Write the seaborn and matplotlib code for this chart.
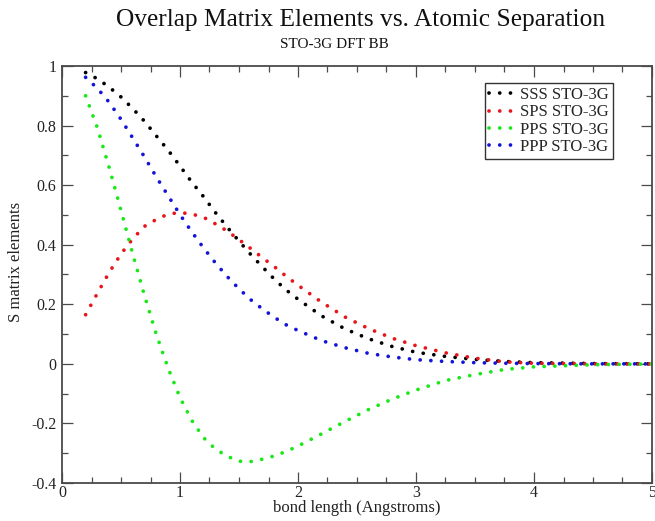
import numpy as np
import pandas as pd
import matplotlib
matplotlib.use("Agg")
import matplotlib.pyplot as plt
from matplotlib.ticker import MultipleLocator, FuncFormatter
import seaborn as sns

# ---------------- data ----------------
bond_length = [0.2, 0.3, 0.4, 0.5, 0.6, 0.7, 0.8, 0.9, 1.0, 1.1, 1.2, 1.3, 1.4,
               1.5, 1.6, 1.7, 1.8, 1.9, 2.0, 2.2, 2.4, 2.6, 2.8, 3.0, 3.25,
               3.5, 3.75, 4.0, 4.5, 5.0]

sss = [0.978, 0.957, 0.929, 0.896, 0.857, 0.814, 0.765, 0.717, 0.664, 0.610,
       0.561, 0.508, 0.459, 0.412, 0.367, 0.325, 0.284, 0.248, 0.217, 0.161,
       0.117, 0.084, 0.058, 0.039, 0.025, 0.015, 0.008, 0.004, 0.001, 0.0]

sps = [0.165, 0.237, 0.307, 0.369, 0.420, 0.462, 0.485, 0.503, 0.508, 0.503,
       0.492, 0.470, 0.446, 0.417, 0.387, 0.356, 0.326, 0.294, 0.264, 0.207,
       0.157, 0.118, 0.086, 0.061, 0.037, 0.019, 0.007, 0.002, 0.0, 0.0]

pps = [0.900, 0.792, 0.659, 0.515, 0.368, 0.228, 0.098, -0.015, -0.113, -0.190,
       -0.248, -0.286, -0.310, -0.327, -0.328, -0.320, -0.309, -0.294, -0.276,
       -0.235, -0.193, -0.153, -0.118, -0.088, -0.056, -0.036, -0.019, -0.010,
       -0.003, 0.0]

ppp = [0.962, 0.925, 0.878, 0.821, 0.758, 0.694, 0.627, 0.564, 0.501, 0.443,
       0.389, 0.339, 0.293, 0.252, 0.215, 0.184, 0.156, 0.131, 0.112, 0.078,
       0.054, 0.035, 0.023, 0.014, 0.008, 0.004, 0.002, 0.001, 0.0, 0.0]

series_names = ["SSS STO-3G", "SPS STO-3G", "PPS STO-3G", "PPP STO-3G"]
series_values = [sss, sps, pps, ppp]
series_colors = ["#000000", "#e8161a", "#18e818", "#1414d8"]

x_ticks = [0, 1, 2, 3, 4, 5]
y_ticks = [-0.4, -0.2, 0, 0.2, 0.4, 0.6, 0.8, 1]

title = "Overlap Matrix Elements vs. Atomic Separation"
subtitle = "STO-3G DFT BB"
x_label = "bond length (Angstroms)"
y_label = "S matrix elements"

# ---------------- build long-form table ----------------
frames = []
for name, vals in zip(series_names, series_values):
    frames.append(pd.DataFrame({"x": bond_length, "S": vals, "series": name}))
df = pd.concat(frames, ignore_index=True)

# ---------------- styling ----------------
sns.set_style("white")
plt.rcParams["font.family"] = ["Liberation Serif", "DejaVu Serif"]
plt.rcParams["axes.unicode_minus"] = False

W, H = 655, 521
fig = plt.figure(figsize=(W / 100, H / 100), dpi=100)
ax_left, ax_right, ax_top, ax_bottom = 62, 652, 66, 483
ax = fig.add_axes([ax_left / W, 1 - ax_bottom / H,
                   (ax_right - ax_left) / W, (ax_bottom - ax_top) / H])

lw = 2.7
dot_style = (0, (0.01, 2.85))
sns.lineplot(data=df, x="x", y="S", hue="series", hue_order=series_names,
             palette=dict(zip(series_names, series_colors)),
             estimator=None, sort=False, legend=False, ax=ax,
             linewidth=lw, linestyle=dot_style, dash_capstyle="round")

ax.set_xlim(0, 5)
ax.set_ylim(-0.4, 1)
ax.set_xticks(x_ticks)
ax.set_yticks(y_ticks)
ax.xaxis.set_minor_locator(MultipleLocator(0.25))
ax.yaxis.set_minor_locator(MultipleLocator(0.1))
ax.yaxis.set_major_formatter(FuncFormatter(lambda v, p: f"{v:g}"))
ax.xaxis.set_major_formatter(FuncFormatter(lambda v, p: f"{v:g}"))

frame_col = "#4a4a4a"
for s in ax.spines.values():
    s.set_visible(True)
    s.set_color(frame_col)
    s.set_linewidth(1.3)
ax.tick_params(which="both", direction="in", top=True, right=True,
               bottom=True, left=True, color=frame_col, width=0.9,
               labelsize=11.5, labelcolor="#222222")
ax.tick_params(which="major", length=8)
ax.tick_params(which="minor", length=4.3)
ax.tick_params(axis="x", which="major", pad=1.5)
ax.tick_params(axis="y", which="major", pad=4)

ax.set_xlabel(x_label, fontsize=12, color="#222222", va="center")
ax.xaxis.set_label_coords(0.5, (ax_bottom - 508) / (ax_bottom - ax_top))
ax.set_ylabel(y_label, fontsize=12, color="#222222", va="center")
ax.yaxis.set_label_coords((16 - ax_left) / (ax_right - ax_left),
                          (ax_bottom - 262) / (ax_bottom - ax_top))

fig.text(360 / W, 1 - 20 / H, title, ha="center", va="center",
         fontsize=18.3, color="#111111")
fig.text(334 / W, 1 - 45 / H, subtitle, ha="center", va="center",
         fontsize=11, color="#111111")

handles = ax.get_lines()[:len(series_names)]
leg = ax.legend(handles, series_names, loc="upper right",
                bbox_to_anchor=(613 / W, 1 - 83 / H),
                bbox_transform=fig.transFigure, borderaxespad=0,
                frameon=True, fancybox=False, framealpha=1,
                edgecolor="#333333", fontsize=12, handlelength=1.4,
                handletextpad=0.45, labelspacing=0.08, borderpad=0.25)
leg.get_frame().set_linewidth(1.0)

fig.savefig("out.png", dpi=100)
